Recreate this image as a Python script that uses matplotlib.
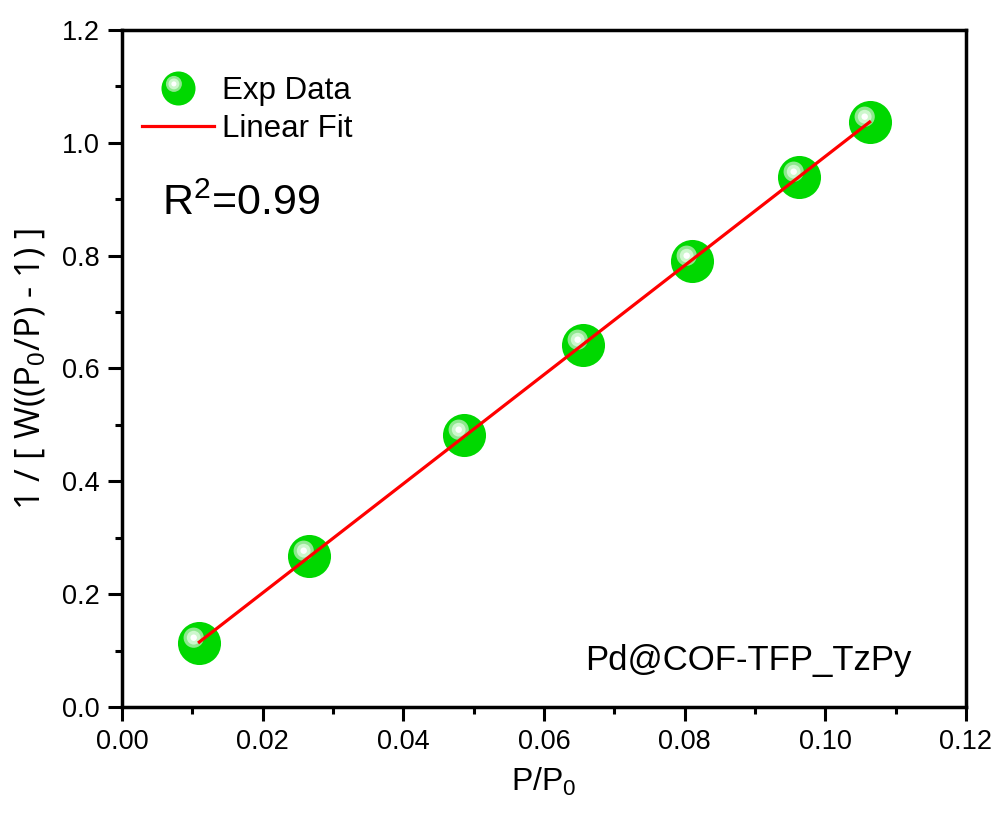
import numpy as np
import matplotlib
matplotlib.use("Agg")
import matplotlib.pyplot as plt
from matplotlib.path import Path
from matplotlib.legend_handler import HandlerTuple
from matplotlib.lines import Line2D

plt.rcParams['font.family'] = ['Liberation Sans', 'DejaVu Sans']
plt.rcParams['mathtext.fontset'] = 'custom'
plt.rcParams['mathtext.rm'] = 'Liberation Sans'
plt.rcParams['mathtext.it'] = 'Liberation Sans:italic'

# data
p_rel = [0.0110, 0.0266, 0.0487, 0.0655, 0.0811, 0.0962, 0.1063]
bet_y = [0.113, 0.268, 0.482, 0.641, 0.791, 0.940, 1.037]
r2_text = "R$^2$=0.99"
sample_name = "Pd@COF-TFP_TzPy"

GREEN = "#00d800"
RED = "#ff0000"


# circle marker shifted off-centre, two invisible moveto points keep the scale
def offset_circle(r, dx, dy):
    circ = Path.unit_circle()
    verts = circ.vertices * r + [dx, dy]
    verts = np.vstack([[[1, 1]], [[-1, -1]], verts])
    codes = np.concatenate([[Path.MOVETO, Path.MOVETO], circ.codes])
    return Path(verts, codes)


glow1 = offset_circle(0.47, -0.27, 0.27)
glow2 = offset_circle(0.32, -0.27, 0.27)
glow3 = offset_circle(0.15, -0.27, 0.27)

fig = plt.figure(figsize=(9.98, 8.17), dpi=100)
ax = fig.add_axes([0.1222, 0.1347, 0.8457, 0.8286])

# linear fit through the points
k, b = np.polyfit(p_rel, bet_y, 1)
fit_x = np.array([p_rel[0], p_rel[-1]])
ax.plot(fit_x, k * fit_x + b, color=RED, lw=2.3, zorder=4)

ms = 31
ax.plot(p_rel, bet_y, ls="none", marker="o", ms=ms, mfc=GREEN, mec="none", zorder=3)
ax.plot(p_rel, bet_y, ls="none", marker=glow1, ms=ms, mfc="#8ee88e", mec="none", zorder=3)
ax.plot(p_rel, bet_y, ls="none", marker=glow2, ms=ms, mfc="#cdf7cd", mec="none", zorder=3)
ax.plot(p_rel, bet_y, ls="none", marker=glow3, ms=ms, mfc="white", mec="none", zorder=3)

ax.set_xlim(0, 0.12)
ax.set_ylim(0, 1.2)
ax.set_xticks(np.arange(0, 0.121, 0.02))
ax.set_yticks(np.arange(0, 1.21, 0.2))
ax.set_xticks(np.arange(0.01, 0.12, 0.02), minor=True)
ax.set_yticks(np.arange(0.1, 1.2, 0.2), minor=True)
ax.xaxis.set_major_formatter(plt.FormatStrFormatter('%.2f'))
ax.yaxis.set_major_formatter(plt.FormatStrFormatter('%.1f'))
ax.tick_params(which="major", direction="out", length=10, width=2.2, labelsize=19.5, pad=6)
ax.tick_params(which="minor", direction="out", length=5, width=2.2)
ax.tick_params(top=False, right=False, which="both")
for s in ax.spines.values():
    s.set_linewidth(2.5)

ax.set_xlabel("P/P$_0$", fontsize=23, labelpad=8)
ax.set_ylabel("1 / [ W((P$_0$/P) - 1) ]", fontsize=25, labelpad=10, family="Open Sans")

ax.text(0.047, 0.727, r2_text, transform=ax.transAxes, fontsize=31, va="baseline")
ax.text(0.549, 0.055, sample_name, transform=ax.transAxes, fontsize=25, va="baseline")

lm = 24.5
h_exp = (Line2D([], [], ls="none", marker="o", ms=lm, mfc=GREEN, mec="none"),
         Line2D([], [], ls="none", marker=glow1, ms=lm, mfc="#8ee88e", mec="none"),
         Line2D([], [], ls="none", marker=glow2, ms=lm, mfc="#cdf7cd", mec="none"),
         Line2D([], [], ls="none", marker=glow3, ms=lm, mfc="white", mec="none"))
h_fit = Line2D([], [], color=RED, lw=2.3)
ax.legend([h_exp, h_fit], ["Exp Data", "Linear Fit"], loc="upper left",
          bbox_to_anchor=(-0.01, 0.973), frameon=False, fontsize=22.5,
          handlelength=2.3, handletextpad=0.28, labelspacing=0.25,
          handler_map={tuple: HandlerTuple(ndivide=1)})

fig.savefig("out.png", dpi=100)
